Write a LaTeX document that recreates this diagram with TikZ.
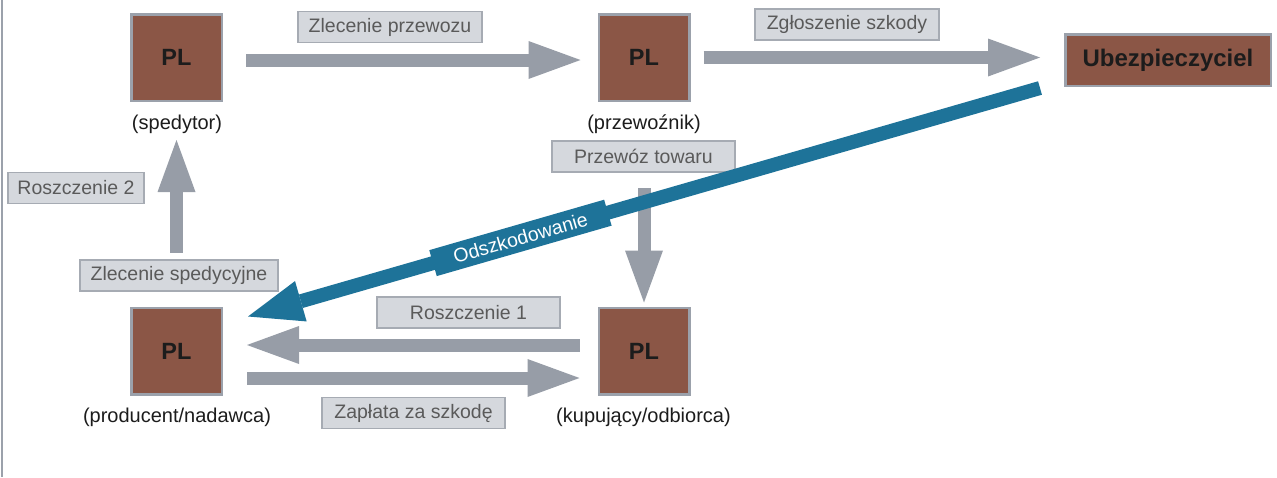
\documentclass[tikz,border=0pt]{standalone}
\usepackage{fontspec}
\setmainfont{Liberation Sans}
\usetikzlibrary{arrows.meta}

\definecolor{brick}{HTML}{8B5646}
\definecolor{frame}{HTML}{9BA1AB}
\definecolor{flowgray}{HTML}{979DA7}
\definecolor{tagfill}{HTML}{D5D8DD}
\definecolor{tagline}{HTML}{A6ABB3}
\definecolor{tagtext}{HTML}{5A5A5A}
\definecolor{ink}{HTML}{1C1C1C}
\definecolor{payblue}{HTML}{1E7399}

\begin{document}
\begin{tikzpicture}[x=1pt,y=-1pt,
  party/.style={draw=frame, line width=2.5pt, fill=brick, inner sep=0pt,
    minimum width=90.5pt, minimum height=86.5pt, text=ink,
    font=\fontsize{23.5}{25}\selectfont\bfseries},
  caption/.style={inner sep=0pt, text=ink, font=\fontsize{20}{22}\selectfont},
  tag/.style={draw=tagline, fill=tagfill, line width=1.5pt, inner sep=0pt,
    minimum height=31pt, text=tagtext, font=\fontsize{19.5}{21}\selectfont},
  flow/.style={draw=flowgray, line width=13pt,
    -{Triangle[length=52pt,width=38pt,line width=0pt]}},
  payflow/.style={draw=payblue, line width=14pt,
    -{Triangle[length=55pt,width=42pt,line width=0pt]}}]

\useasboundingbox (0,0) rectangle (1277,477);

% page edge rule
\draw[frame, line width=2.5pt] (2,0) -- (2,477);

% parties
\node[party] (sped)  at (176.5,57.5) {PL};
\node[party] (przew) at (644,57.5)   {PL};
\node[party] (prod)  at (176.5,351)  {PL};
\node[party] (kup)   at (644,351)    {PL};
\node[party, minimum width=205.5pt, minimum height=51.5pt,
      font=\fontsize{24}{26}\selectfont\bfseries] (ub) at (1168,60) {Ubezpieczyciel};

% roles
\node[caption] (spedcap)  at (177,124)   {(spedytor)};
\node[caption] (przewcap) at (644,124)   {(przewoźnik)};
\node[caption] (prodcap)  at (177,417)   {(producent/nadawca)};
\node[caption] (kupcap)   at (643.5,417) {(kupujący/odbiorca)};

% flow labels
\node[tag, minimum width=184pt] (tzp) at (390,27)    {Zlecenie przewozu};
\node[tag, minimum width=184pt] (tzs) at (847,24.5)  {Zgłoszenie szkody};
\node[tag, minimum width=136pt] (tr2) at (76,188)    {Roszczenie 2};
\node[tag, minimum width=198pt] (tsp) at (179,275.5) {Zlecenie spedycyjne};
\node[tag, minimum width=183pt] (tpt) at (643.5,156.5) {Przewóz towaru};
\node[tag, minimum width=183pt] (tr1) at (468.5,312.5) {Roszczenie 1};
\node[tag, minimum width=183pt] (tza) at (413.5,413) {Zapłata za szkodę};

% flows
\draw[flow, shorten <=23pt, shorten >=17pt]
  ([yshift=-2.5pt]sped.east) -- ([yshift=-2.5pt]sped.east -| przew.west);
\draw[flow, shorten <=13pt, shorten >=24pt]
  (przew.east) -- (przew.east -| ub.west);
\draw[flow, shorten <=54pt, shorten >=38pt] (prod.north) -- (sped.south);
\draw[flow, shorten <=86pt, shorten >=4pt] (przew.south) -- (kup.north);
\draw[flow, shorten <=18pt, shorten >=24pt]
  ([yshift=6pt]kup.west) -- ([yshift=6pt]kup.west -| prod.east);
\draw[flow, shorten <=24pt, shorten >=18pt]
  ([yshift=-27pt]prod.east) -- ([yshift=-27pt]prod.east -| kup.west);

% compensation
\coordinate (payfrom) at ([xshift=-24pt,yshift=-1pt]ub.south west);
\coordinate (payto)   at ([xshift=25pt,yshift=-10pt]prod.north east);
\draw[payflow] (payfrom) -- node[sloped, pos=0.656, fill=payblue, text=white,
    inner sep=0pt, minimum width=182pt, minimum height=27pt,
    font=\fontsize{19.5}{21}\selectfont] (odsz) {Odszkodowanie} (payto);

\end{tikzpicture}
\end{document}
